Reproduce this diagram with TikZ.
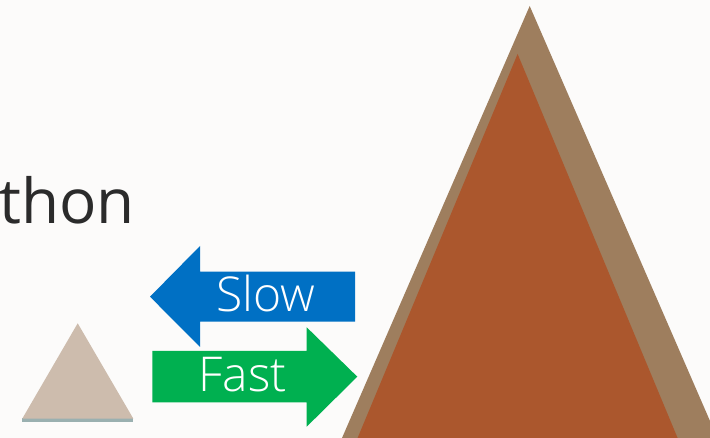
\documentclass[tikz,border=0pt]{standalone}
\usepackage{fontspec}
\setmainfont{Open Sans Light}
\newfontfamily\regularsans{Open Sans}
\definecolor{bg}{HTML}{FCFBFA}
\definecolor{outerbrown}{HTML}{9E7E5E}
\definecolor{innerrust}{HTML}{AB572D}
\definecolor{sand}{HTML}{CDBCAD}
\definecolor{baseteal}{HTML}{9AB0B0}
\definecolor{slowblue}{HTML}{0070C4}
\definecolor{fastgreen}{HTML}{00B050}
\definecolor{textdark}{HTML}{2B2B2B}
\tikzset{
  arrowtext/.style={text=white, font=\fontsize{48}{50}\selectfont, inner sep=0pt, anchor=base}
}
\begin{document}
\begin{tikzpicture}[x=1pt,y=-1pt]
\fill[bg] (0,0) rectangle (710,438);
\useasboundingbox (0,0) rectangle (710,438);
\begin{scope}
\clip (0,0) rectangle (710,438);
% big triangles
\fill[outerbrown] (529.7,6) -- (342,438) -- (717.4,438) -- cycle;
\fill[innerrust] (517.6,54) -- (357.6,438) -- (677.6,438) -- cycle;
\end{scope}
% small triangle
\fill[baseteal] (22.3,418.3) rectangle (133.3,421.7);
\fill[sand] (77.7,323.3) -- (22.3,418.6) -- (133.3,418.6) -- cycle;
% slow arrow
\fill[slowblue] (150,296.7) -- (200,246) -- (200,271.7) -- (355,271.7) -- (355,321.7) -- (200,321.7) -- (200,347) -- cycle;
% fast arrow
\fill[fastgreen] (152.3,351) -- (306.7,351) -- (306.7,327.3) -- (357.3,376.7) -- (306.7,426.7) -- (306.7,402.3) -- (152.3,402.3) -- cycle;
\node[arrowtext] (slow) at (265.5,311.7) {Slow};
\node[arrowtext] (fast) at (242.5,391.7) {Fast};
\node[text=textdark, font=\regularsans\fontsize{62}{64}\selectfont, inner sep=0pt, anchor=base east] (thon) at (135,224) {thon};
\end{tikzpicture}
\end{document}
